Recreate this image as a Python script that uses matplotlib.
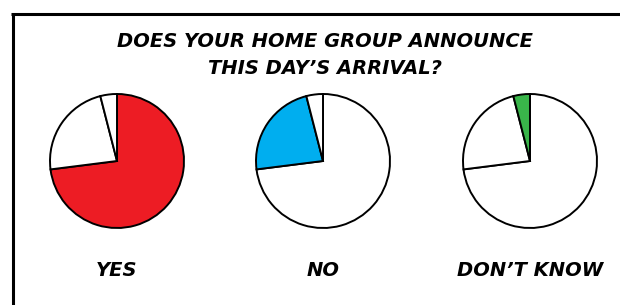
import matplotlib
matplotlib.use("Agg")
import matplotlib.pyplot as plt

# share of answers (percent)
answers = ["YES", "NO", "DON\u2019T KNOW"]
shares = [73, 23, 4]
highlight = ["#ED1C24", "#00AEEF", "#39B54A"]
title = "DOES YOUR HOME GROUP ANNOUNCE\nTHIS DAY\u2019S ARRIVAL?"

plt.rcParams['font.family'] = ['DejaVu Sans']

W, H = 620, 305
fig = plt.figure(figsize=(W / 100, H / 100), dpi=100)
ax = fig.add_axes([0, 0, 1, 1])

centers_x = [117, 323, 530]
center_y = H - 161
radius = 67

for i, name in enumerate(answers):
    cols = ["white"] * len(shares)
    cols[i] = highlight[i]
    ax.pie(shares, colors=cols, startangle=90, counterclock=False,
           center=(centers_x[i], center_y), radius=radius, frame=True,
           wedgeprops=dict(edgecolor="black", linewidth=1.4))
    ax.text(centers_x[i], H - 271, name, ha="center", va="center",
            fontsize=14, fontweight="bold", fontstyle="oblique")

ax.text(325, H - 55, title, ha="center", va="center", fontsize=14,
        fontweight="bold", fontstyle="oblique", linespacing=1.5)

# box border (top and left edges)
ax.plot([11, W], [H - 14, H - 14], color="black", lw=2.2, solid_capstyle="butt")
ax.plot([12.5, 12.5], [H - 14, 0], color="black", lw=2.2, solid_capstyle="butt")

ax.set_xlim(0, W)
ax.set_ylim(0, H)
ax.set_aspect("auto")
ax.axis("off")

fig.savefig("out.png", dpi=100)
